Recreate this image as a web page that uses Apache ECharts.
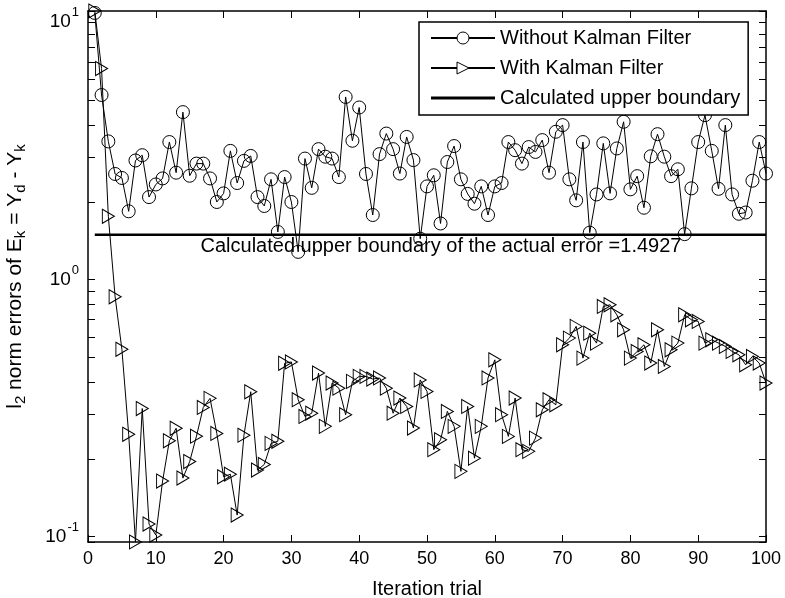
<!DOCTYPE html>
<html><head><meta charset="utf-8">
<script src="https://cdn.jsdelivr.net/npm/echarts@6/dist/echarts.min.js"></script>
<style>html,body{margin:0;padding:0;background:#fff}#c{width:785px;height:598px}</style>
</head><body><div id="c"></div>
<script>
const FONT = 'Liberation Sans, Arial, Helvetica, sans-serif';

const iterationTrial = [1,2,3,4,5,6,7,8,9,10,11,12,13,14,15,16,17,18,19,20,
  21,22,23,24,25,26,27,28,29,30,31,32,33,34,35,36,37,38,39,40,
  41,42,43,44,45,46,47,48,49,50,51,52,53,54,55,56,57,58,59,60,
  61,62,63,64,65,66,67,68,69,70,71,72,73,74,75,76,77,78,79,80,
  81,82,83,84,85,86,87,88,89,90,91,92,93,94,95,96,97,98,99,100];

const withoutKalman = [10.86,5.21,3.44,2.57,2.48,1.84,2.90,3.04,2.09,2.34,
  2.47,3.42,2.60,4.47,2.53,2.82,2.82,2.47,2.00,2.16,
  3.16,2.37,2.89,3.02,2.09,1.93,2.45,1.53,2.50,2.00,
  1.28,2.95,2.27,3.21,3.00,2.95,2.50,5.12,3.46,4.66,
  2.57,1.78,3.07,3.69,3.21,2.58,3.58,2.91,1.44,2.30,
  2.54,1.65,2.86,3.30,2.45,2.15,1.97,2.30,1.78,2.30,
  2.37,3.42,3.18,2.82,3.27,3.13,3.48,2.60,3.75,3.98,
  2.45,2.03,3.42,1.52,2.14,3.38,2.16,3.23,4.10,2.24,
  2.52,1.90,3.01,3.67,3.00,2.52,2.68,1.50,2.26,3.42,
  4.35,3.16,2.25,3.98,2.14,1.80,1.82,2.42,3.42,2.58];

const withKalman = [11.05,6.60,1.76,0.856,0.535,0.250,0.0954,0.315,0.112,0.1015,
  0.1646,0.236,0.264,0.169,0.196,0.246,0.318,0.345,0.252,0.171,
  0.175,0.1214,0.248,0.366,0.1816,0.191,0.2306,0.235,0.472,0.478,
  0.341,0.2935,0.302,0.4325,0.2685,0.3956,0.378,0.298,0.4016,0.420,
  0.420,0.410,0.414,0.378,0.302,0.346,0.321,0.2645,0.407,0.367,
  0.218,0.238,0.307,0.2685,0.1795,0.321,0.202,0.2685,0.414,0.487,
  0.298,0.2455,0.346,0.218,0.2147,0.2417,0.3114,0.341,0.3257,0.557,
  0.5915,0.657,0.4946,0.6184,0.5656,0.785,0.797,0.7287,0.637,0.4946,
  0.525,0.557,0.473,0.637,0.459,0.5326,0.5656,0.7287,0.697,0.687,
  0.5656,0.5825,0.5656,0.549,0.525,0.5094,0.4658,0.5022,0.473,0.3956];

const upperBoundary = 1.4927;
const boundaryTrials = [1, 100];
const annotationAt = [16.6, 1.4927];
const annotationText = 'Calculated upper boundary of the actual error =1.4927';
const seriesNames = ['Without Kalman Filter', 'With Kalman Filter', 'Calculated upper boundary'];

const xRange = [0, 100];
const xStep = 10;
const yRange = [0.0954, 11.05];
const yMinorTicks = [0.2,0.3,0.4,0.5,0.6,0.7,0.8,0.9,2,3,4,5,6,7,8,9];

const tri = 'path://M0,0L10,6L0,12Z';
// thick legend bar: tiny corner specks fix the icon box at 64x15, bar is 3px tall in the middle
const barIcon = 'path://M0,0L0.01,0L0,0.01ZM64,15L63.99,15L64,14.99ZM0,6L64,6L64,9L0,9Z';

const chart = echarts.init(document.getElementById('c'), null, {renderer: 'canvas'});

const axisLineStyle = {color: '#000', width: 1.5};
const tickStyle = {color: '#000', width: 1};

function yLabel(v) {
  const e = Math.round(Math.log10(v));
  if (Math.abs(Math.log10(v) - e) > 1e-6) return '';
  return '{b|10}{s|' + e + '}';
}

const minorData = [];
yMinorTicks.forEach(v => { minorData.push([xRange[0], v]); minorData.push([xRange[1], v]); });

const legendMarkerStyle = {color: '#fff', borderColor: '#000', borderWidth: 1};

chart.setOption({
  animation: false,
  backgroundColor: '#fff',
  textStyle: {fontFamily: FONT, color: '#000'},
  grid: {left: 88, right: 19, top: 11, bottom: 56, containLabel: false, outerBoundsMode: 'none'},
  legend: {
    data: [
      {name: seriesNames[0], itemStyle: legendMarkerStyle},
      {name: seriesNames[1], itemStyle: legendMarkerStyle},
      {name: seriesNames[2], icon: barIcon, itemStyle: {color: '#000', borderWidth: 0}}
    ],
    orient: 'vertical',
    left: 419, top: 22,
    padding: [6, 8, 7, 11],
    itemGap: 10,
    itemWidth: 64,
    itemHeight: 15,
    backgroundColor: '#fff',
    borderColor: '#000',
    borderWidth: 1.5,
    borderRadius: 0,
    textStyle: {fontSize: 20, color: '#000', fontFamily: FONT},
    z: 20
  },
  xAxis: [{
    type: 'value', min: xRange[0], max: xRange[1], interval: xStep, position: 'bottom',
    axisLine: {onZero: false, lineStyle: axisLineStyle},
    axisTick: {inside: true, length: 7, lineStyle: tickStyle},
    axisLabel: {fontSize: 18, color: '#000', margin: 8, fontFamily: FONT},
    splitLine: {show: false},
    name: 'Iteration trial', nameLocation: 'middle', nameGap: 37,
    nameTextStyle: {fontSize: 20, color: '#000', fontFamily: FONT}
  }, {
    type: 'value', min: xRange[0], max: xRange[1], interval: xStep, position: 'top',
    axisLine: {onZero: false, lineStyle: axisLineStyle},
    axisTick: {inside: true, length: 7, lineStyle: tickStyle},
    axisLabel: {show: false},
    splitLine: {show: false}
  }],
  yAxis: [{
    type: 'log', logBase: 10, min: yRange[0], max: yRange[1], position: 'left',
    axisLine: {onZero: false, lineStyle: axisLineStyle},
    axisTick: {inside: true, length: 7, lineStyle: tickStyle},
    axisLabel: {
      formatter: yLabel, margin: 9, color: '#000', showMinLabel: true, showMaxLabel: true,
      rich: {
        b: {fontSize: 19, lineHeight: 32, fontFamily: FONT, color: '#000'},
        s: {fontSize: 13, lineHeight: 13, verticalAlign: 'top', fontFamily: FONT, color: '#000', padding: [0, 0, 0, 1]}
      }
    },
    splitLine: {show: false},
    name: '{n|l}{s|2}{n| norm errors of E}{s|k}{n| = Y}{s|d}{n| - Y}{s|k}',
    nameLocation: 'middle', nameGap: 60,
    nameTextStyle: {
      fontSize: 21, color: '#000', fontFamily: FONT,
      rich: {
        n: {fontSize: 21, lineHeight: 25, fontFamily: FONT, color: '#000'},
        s: {fontSize: 15, lineHeight: 15, verticalAlign: 'bottom', fontFamily: FONT, color: '#000'}
      }
    }
  }, {
    type: 'log', logBase: 10, min: yRange[0], max: yRange[1], position: 'right',
    axisLine: {onZero: false, lineStyle: axisLineStyle},
    axisTick: {inside: true, length: 7, lineStyle: tickStyle},
    axisLabel: {show: false},
    splitLine: {show: false}
  }],
  series: [{
    name: seriesNames[0], type: 'line',
    data: iterationTrial.map((x, i) => [x, withoutKalman[i]]),
    symbol: 'circle', symbolSize: 13, showAllSymbol: true, clip: false,
    itemStyle: {color: 'rgba(0,0,0,0)', borderColor: '#000', borderWidth: 1},
    lineStyle: {color: '#000', width: 1},
    emphasis: {disabled: true}, z: 3
  }, {
    name: seriesNames[1], type: 'line',
    data: iterationTrial.map((x, i) => [x, withKalman[i]]),
    symbol: tri, symbolSize: [12, 14], showAllSymbol: true, clip: false,
    itemStyle: {color: 'rgba(0,0,0,0)', borderColor: '#000', borderWidth: 1},
    lineStyle: {color: '#000', width: 1},
    emphasis: {disabled: true}, z: 3
  }, {
    name: seriesNames[2], type: 'line',
    data: boundaryTrials.map(x => [x, upperBoundary]),
    symbol: 'none',
    itemStyle: {color: '#000'},
    lineStyle: {color: '#000', width: 2.5},
    emphasis: {disabled: true}, z: 4
  }, {
    name: 'annotation', type: 'scatter',
    data: [annotationAt], symbolSize: 0, silent: true, z: 5,
    itemStyle: {color: '#000', opacity: 1},
    label: {
      show: true, formatter: annotationText, position: [0, 2], align: 'left', verticalAlign: 'top',
      fontSize: 20, color: '#000', fontFamily: FONT, textBorderWidth: 0, textBorderColor: 'transparent', opacity: 1
    },
    emphasis: {disabled: true}
  }, {
    name: 'minorTicks', type: 'custom', silent: true, z: 6,
    data: minorData,
    renderItem: function (params, api) {
      const side = api.value(0);
      const p = api.coord([side, api.value(1)]);
      const dir = side === xRange[0] ? 1 : -1;
      const y = Math.round(p[1]) + 0.5;
      return {type: 'line', shape: {x1: p[0], y1: y, x2: p[0] + dir * 7, y2: y},
        style: {stroke: '#000', lineWidth: 1}};
    }
  }]
});
</script>
</body></html>
